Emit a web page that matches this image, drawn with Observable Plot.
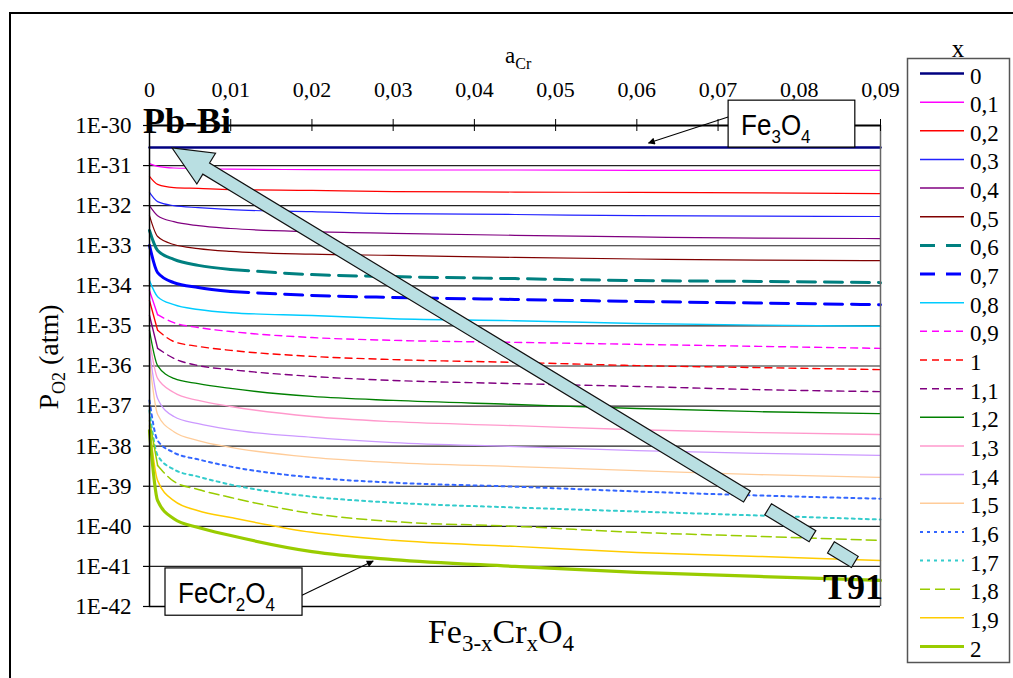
<!DOCTYPE html>
<html>
<head>
<meta charset="utf-8">
<script src="https://cdn.jsdelivr.net/npm/d3@7"></script>
<script src="https://cdn.jsdelivr.net/npm/@observablehq/plot@0.6"></script>
<style>
  html, body { margin: 0; padding: 0; background: #fff; }
  #wrap { position: relative; width: 1013px; height: 678px; overflow: hidden; background: #fff; }
  #frame { position: absolute; left: 9px; top: 12px; width: 1200px; height: 900px; border: 2px solid #000; box-sizing: border-box; }
  #chart { position: absolute; left: 0; top: 0; }
  #legend { position: absolute; left: 0; top: 0; }
</style>
</head>
<body>
<div id="wrap">
  <div id="frame"></div>
  <div id="chart"></div>
  <svg id="legend" width="1013" height="678"></svg>
</div>
<script>
// ---------------- data ----------------
// a_Cr sample positions (top axis)
const aCr = [0, 0.001, 0.003, 0.006, 0.01, 0.02, 0.03, 0.045, 0.06, 0.075, 0.09];

// log10(P_O2 / atm), one array per x of Fe(3-x)Cr(x)O4
const logP_x0_0 = [-30.55, -30.55, -30.55, -30.55, -30.55, -30.55, -30.55, -30.55, -30.55, -30.55, -30.55];
const logP_x0_1 = [-30.95, -31.02, -31.06, -31.07, -31.09, -31.10, -31.11, -31.11, -31.12, -31.12, -31.12];
const logP_x0_2 = [-31.27, -31.47, -31.55, -31.57, -31.60, -31.62, -31.65, -31.66, -31.67, -31.68, -31.70];
const logP_x0_3 = [-31.67, -31.90, -32.00, -32.05, -32.10, -32.15, -32.20, -32.22, -32.25, -32.26, -32.27];
const logP_x0_4 = [-32.00, -32.25, -32.40, -32.50, -32.57, -32.65, -32.69, -32.74, -32.78, -32.81, -32.82];
const logP_x0_5 = [-32.25, -32.77, -32.97, -33.07, -33.14, -33.21, -33.24, -33.29, -33.33, -33.36, -33.37];
const logP_x0_6 = [-32.62, -33.12, -33.34, -33.49, -33.59, -33.72, -33.77, -33.82, -33.87, -33.89, -33.92];
const logP_x0_7 = [-32.99, -33.67, -33.92, -34.04, -34.14, -34.24, -34.29, -34.34, -34.39, -34.43, -34.47];
const logP_x0_8 = [-33.87, -34.27, -34.47, -34.59, -34.67, -34.74, -34.82, -34.87, -34.94, -34.98, -35.01];
const logP_x0_9 = [-34.12, -34.72, -34.92, -35.04, -35.14, -35.29, -35.36, -35.41, -35.46, -35.51, -35.56];
const logP_x1_0 = [-34.37, -35.11, -35.39, -35.51, -35.61, -35.76, -35.84, -35.91, -35.99, -36.04, -36.09];
const logP_x1_1 = [-34.74, -35.56, -35.81, -35.99, -36.09, -36.26, -36.36, -36.44, -36.51, -36.59, -36.64];
const logP_x1_2 = [-35.11, -35.99, -36.31, -36.44, -36.56, -36.76, -36.86, -36.96, -37.06, -37.14, -37.19];
const logP_x1_3 = [-35.36, -36.31, -36.66, -36.86, -37.01, -37.26, -37.39, -37.49, -37.59, -37.66, -37.71];
const logP_x1_4 = [-35.61, -36.81, -37.26, -37.44, -37.59, -37.78, -37.91, -38.01, -38.11, -38.18, -38.23];
const logP_x1_5 = [-35.86, -37.21, -37.64, -37.86, -38.03, -38.28, -38.41, -38.51, -38.61, -38.71, -38.78];
const logP_x1_6 = [-36.86, -37.86, -38.16, -38.33, -38.51, -38.78, -38.91, -39.01, -39.13, -39.23, -39.31];
const logP_x1_7 = [-37.11, -38.23, -38.58, -38.76, -38.96, -39.26, -39.41, -39.53, -39.63, -39.73, -39.83];
const logP_x1_8 = [-37.36, -38.48, -38.88, -39.08, -39.28, -39.68, -39.88, -40.00, -40.15, -40.25, -40.35];
const logP_x1_9 = [-37.49, -38.86, -39.36, -39.61, -39.78, -40.15, -40.35, -40.50, -40.65, -40.75, -40.85];
const logP_x2_0 = [-37.61, -39.36, -39.81, -40.03, -40.23, -40.63, -40.83, -41.00, -41.15, -41.25, -41.35];

const seriesLabels = ["0", "0,1", "0,2", "0,3", "0,4", "0,5", "0,6", "0,7", "0,8", "0,9",
                      "1", "1,1", "1,2", "1,3", "1,4", "1,5", "1,6", "1,7", "1,8", "1,9", "2"];
const seriesValues = [logP_x0_0, logP_x0_1, logP_x0_2, logP_x0_3, logP_x0_4, logP_x0_5, logP_x0_6,
                      logP_x0_7, logP_x0_8, logP_x0_9, logP_x1_0, logP_x1_1, logP_x1_2, logP_x1_3,
                      logP_x1_4, logP_x1_5, logP_x1_6, logP_x1_7, logP_x1_8, logP_x1_9, logP_x2_0];

// tick labels
const xTicks = [0, 0.01, 0.02, 0.03, 0.04, 0.05, 0.06, 0.07, 0.08, 0.09];
const yTicks = [1e-30, 1e-31, 1e-32, 1e-33, 1e-34, 1e-35, 1e-36, 1e-37, 1e-38, 1e-39, 1e-40, 1e-41, 1e-42];
const gridLines = [1e-31, 1e-32, 1e-33, 1e-34, 1e-35, 1e-36, 1e-37, 1e-38, 1e-39, 1e-40, 1e-41];

// ---------------- styles ----------------
const seriesColors = ["#000080", "#FF00FF", "#FF0000", "#2222FF", "#800080", "#800000", "#008080",
                      "#0000FF", "#00CCFF", "#FF00FF", "#FF0000", "#800080", "#008000", "#FF99CC",
                      "#CC99FF", "#FFCC99", "#3366FF", "#33CCCC", "#99CC00", "#FFCC00", "#99CC00"];
const seriesWidths = [2.5, 1.2, 1.2, 1.2, 1.2, 1.2, 3, 3, 1.4, 1.4, 1.4, 1.4, 1.3, 1.3, 1.3, 1.3, 2, 2, 1.5, 1.5, 3.2];
const seriesDash = [null, null, null, null, null, null, "18,9", "18,9", null, "7,5", "7,5", "7,5",
                    null, null, null, null, "3,4", "3,4", "10,5", null, null];
// a_Cr up to which the dashed curves are drawn continuous (dense points near the origin)
const solidUntil = [0, 0, 0, 0, 0, 0, 0.01, 0.01, 0, 0.001, 0.001, 0.001, 0, 0, 0, 0, 0, 0, 0.001, 0, 0];

// annotations (in data coordinates: a_Cr, P_O2)
const bigArrowTip = [0.00283, 10 ** -30.57];
const bigArrowTail = [0.0869, 10 ** -40.90];
const bigArrowPieces = [[0, 0.842], [0.873, 0.938], [0.965, 1]];
const fe3o4Box = {x1: 0.0713, x2: 0.0869, y1: 10 ** -29.38, y2: 10 ** -30.55};
const fe3o4Leader = {from: [0.0713, 10 ** -29.80], to: [0.0615, 10 ** -30.45]};
const fecrBox = {x1: 0.00197, x2: 0.01884, y1: 10 ** -41.05, y2: 10 ** -42.23};
const fecrLeader = {from: [0.01884, 10 ** -41.73], to: [0.0276, 10 ** -40.88]};

// ---------------- table ----------------
const rows = [];
seriesValues.forEach((vals, i) => {
  vals.forEach((v, j) => rows.push({s: i, aCr: aCr[j], pO2: 10 ** v}));
});

const fmtX = d => d === 0 ? "0" : d.toFixed(2).replace(".", ",");
const fmtY = d => "1E" + Math.round(Math.log10(d));

const serif = "Liberation Serif";
const sans = "Liberation Sans";

const lineMarks = [];
seriesValues.forEach((_, i) => {
  const data = rows.filter(r => r.s === i);
  const base = {x: "aCr", y: "pO2", curve: "monotone-x", stroke: seriesColors[i], strokeWidth: seriesWidths[i]};
  if (seriesDash[i] && solidUntil[i] > 0) {
    lineMarks.push(Plot.line(data.filter(r => r.aCr <= solidUntil[i]), base));
    lineMarks.push(Plot.line(data.filter(r => r.aCr >= solidUntil[i]), {...base, strokeDasharray: seriesDash[i]}));
  } else {
    lineMarks.push(Plot.line(data, {...base, strokeDasharray: seriesDash[i] ?? undefined}));
  }
});

const chart = Plot.plot({
  width: 1013, height: 678,
  marginLeft: 149, marginRight: 133, marginTop: 125, marginBottom: 72,
  style: {background: "transparent", fontFamily: serif, color: "#000"},
  x: {domain: [0, 0.09]},
  y: {type: "log", domain: [1e-42, 1e-30]},
  marks: [
    Plot.ruleY(gridLines, {stroke: "#222", strokeWidth: 1.1}),
    ...lineMarks,
    Plot.ruleX([0.09], {stroke: "#666", strokeWidth: 1.5}),
    Plot.ruleX([0], {stroke: "#000", strokeWidth: 1.5}),
    Plot.ruleY([1e-42], {stroke: "#000", strokeWidth: 1.5}),
    Plot.ruleY([1e-30], {stroke: "#000", strokeWidth: 2}),
    Plot.ruleX(xTicks, {x: d => d, y1: 10 ** -29.85, y2: 10 ** -30.15, stroke: "#000", strokeWidth: 1}),
    Plot.axisX(xTicks, {anchor: "top", tickSize: 0, tickPadding: 29, tickFormat: fmtX,
                        fontSize: 22, fontFamily: serif, label: null}),
    Plot.axisY(yTicks, {anchor: "left", tickSize: 6, tickPadding: 12, tickFormat: fmtY,
                        fontSize: 23, fontFamily: serif, label: null, strokeWidth: 1.2})
  ]
});
document.getElementById("chart").appendChild(chart);

// ---------------- annotations through the scales ----------------
const X = chart.scale("x"), Y = chart.scale("y");
const px = v => X.apply(v), py = v => Y.apply(v);
const svg = d3.select(chart);

const defs = svg.append("defs");
defs.append("marker").attr("id", "ah").attr("viewBox", "0 0 10 10").attr("refX", 9).attr("refY", 5)
  .attr("markerWidth", 9).attr("markerHeight", 7).attr("markerUnits", "userSpaceOnUse").attr("orient", "auto")
  .append("path").attr("d", "M0,0 L10,5 L0,10 Z").attr("fill", "#000");

// axis titles
const topTitle = svg.append("text").attr("x", 505).attr("y", 63).attr("text-anchor", "start")
  .attr("font-family", serif).attr("font-size", 23);
topTitle.append("tspan").text("a");
topTitle.append("tspan").attr("dy", 6).attr("font-size", 16).text("Cr");

const yTitle = svg.append("text").attr("transform", "translate(58,357) rotate(-90)")
  .attr("text-anchor", "middle").attr("font-family", serif).attr("font-size", 28);
yTitle.append("tspan").text("P");
yTitle.append("tspan").attr("dy", 7).attr("font-size", 18).text("O2");
yTitle.append("tspan").attr("dy", -7).text(" (atm)");

const xTitle = svg.append("text").attr("x", 501).attr("y", 643).attr("text-anchor", "middle")
  .attr("font-family", serif).attr("font-size", 34);
xTitle.append("tspan").text("Fe");
xTitle.append("tspan").attr("dy", 8).attr("font-size", 23).text("3-x");
xTitle.append("tspan").attr("dy", -8).text("Cr");
xTitle.append("tspan").attr("dy", 8).attr("font-size", 23).text("x");
xTitle.append("tspan").attr("dy", -8).text("O");
xTitle.append("tspan").attr("dy", 8).attr("font-size", 23).text("4");

// big arrow T91 -> Pb-Bi
(function () {
  const tx = px(bigArrowTip[0]), ty = py(bigArrowTip[1]);
  const ex = px(bigArrowTail[0]), ey = py(bigArrowTail[1]);
  const L = Math.hypot(ex - tx, ey - ty);
  const ux = (ex - tx) / L, uy = (ey - ty) / L;
  const nx = -uy, ny = ux;
  const headLen = 40, headHalf = 18, shaft = 6.5;
  const P = (t, w) => [tx + ux * t * L + nx * w, ty + uy * t * L + ny * w];
  const hb = headLen / L;
  const g = svg.append("g").attr("fill", "#B9DFE2").attr("stroke", "#111").attr("stroke-width", 1.2)
    .attr("stroke-linejoin", "miter");
  bigArrowPieces.forEach(([a, b], k) => {
    let pts;
    if (k === 0) {
      pts = [P(0, 0), P(hb, -headHalf), P(hb, -shaft), P(b, -shaft), P(b, shaft), P(hb, shaft), P(hb, headHalf)];
    } else {
      pts = [P(a, -shaft), P(b, -shaft), P(b, shaft), P(a, shaft)];
    }
    g.append("polygon").attr("points", pts.map(p => p.join(",")).join(" "));
  });
})();

// bold labels
svg.append("text").attr("x", px(0) - 6).attr("y", py(1e-30) + 8).attr("text-anchor", "start")
  .attr("font-family", serif).attr("font-weight", "bold").attr("font-size", 36).text("Pb-Bi");
svg.append("text").attr("x", px(0.09) + 3).attr("y", py(1e-42) - 7).attr("text-anchor", "end")
  .attr("font-family", serif).attr("font-weight", "bold").attr("font-size", 36).text("T91");

// callouts
function callout(box, leader, parts) {
  svg.append("line").attr("x1", px(leader.from[0])).attr("y1", py(leader.from[1]))
    .attr("x2", px(leader.to[0])).attr("y2", py(leader.to[1]))
    .attr("stroke", "#000").attr("stroke-width", 1.1).attr("marker-end", "url(#ah)");
  const x1 = px(box.x1), x2 = px(box.x2), y1 = py(box.y1), y2 = py(box.y2);
  svg.append("rect").attr("x", x1).attr("y", y1).attr("width", x2 - x1).attr("height", y2 - y1)
    .attr("fill", "#fff").attr("stroke", "#000").attr("stroke-width", 1.2);
  const bx = x1 + 13, by = y1 + (y2 - y1) * 0.74;
  const t = svg.append("text").attr("transform", `translate(${bx},${by}) scale(1,1.12)`)
    .attr("text-anchor", "start").attr("font-family", sans).attr("font-size", 26);
  let sub = false;
  parts.forEach(([s, isSub]) => {
    const sp = t.append("tspan").text(s);
    if (isSub && !sub) { sp.attr("dy", 7).attr("font-size", 17); sub = true; }
    else if (isSub) { sp.attr("font-size", 17); }
    else if (!isSub && sub) { sp.attr("dy", -7); sub = false; }
  });
}
callout(fe3o4Box, fe3o4Leader, [["Fe", false], ["3", true], ["O", false], ["4", true]]);
callout(fecrBox, fecrLeader, [["FeCr", false], ["2", true], ["O", false], ["4", true]]);

// ---------------- legend ----------------
const lg = d3.select("#legend");
lg.append("rect").attr("x", 907.5).attr("y", 58.5).attr("width", 102).attr("height", 604)
  .attr("fill", "#fff").attr("stroke", "#555").attr("stroke-width", 1.5);
lg.append("text").attr("x", 958).attr("y", 57).attr("text-anchor", "middle")
  .attr("font-family", serif).attr("font-size", 25).text("x");
seriesLabels.forEach((lab, i) => {
  const yc = 73.5 + i * 28.65;
  lg.append("line").attr("x1", 920).attr("x2", 964).attr("y1", yc).attr("y2", yc)
    .attr("stroke", seriesColors[i]).attr("stroke-width", Math.max(seriesWidths[i], 1.5))
    .attr("stroke-dasharray", seriesDash[i] ? (i === 6 || i === 7 ? "15,11" : seriesDash[i]) : null);
  lg.append("text").attr("x", 970).attr("y", yc + 10).attr("font-family", serif)
    .attr("font-size", 23).text(lab);
});
</script>
</body>
</html>
